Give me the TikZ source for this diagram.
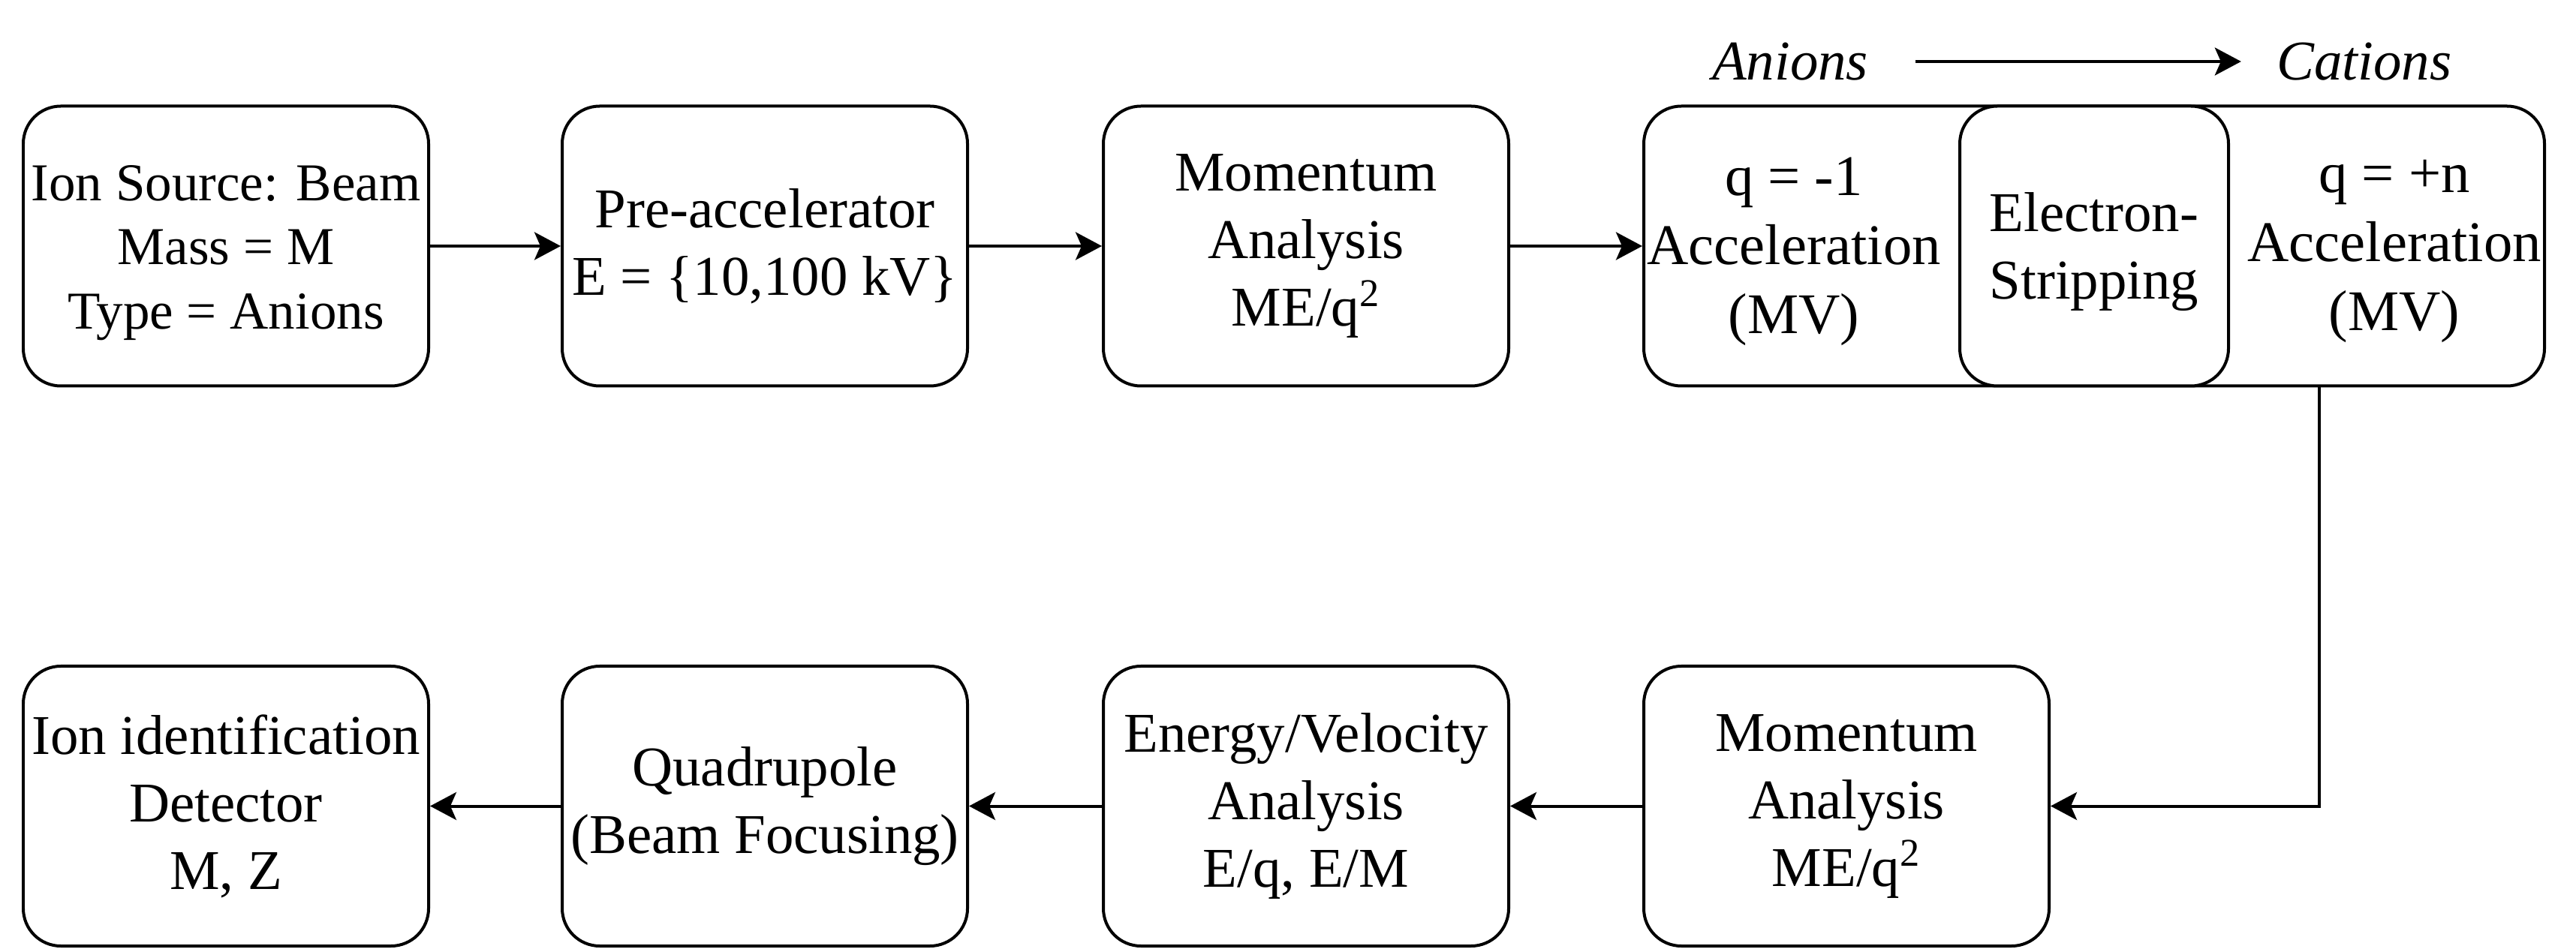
\documentclass[tikz,border=0pt]{standalone}
\usepackage{fontspec}
\setmainfont{Liberation Serif}
\usepackage{tikz}
\usetikzlibrary {arrows.meta}
\pgfmathsetmacro{\topy}{9.36}
\pgfmathsetmacro{\boty}{1.895}
\tikzset{
	block/.style = {draw, line width = .04cm, rounded corners = .5cm, minimum width = 5.4cm, minimum height = 3.73cm, align = center, inner sep = 0pt, font = \fontsize{21.3}{25.6}\selectfont},
	plain/.style = {align = center, inner sep = 0pt, font = \fontsize{21.3}{25.6}\selectfont},
	flow/.style = {line width = .04cm, arrows = {-Stealth[length = .35cm, width = .37cm, inset = .08cm]}},
}
\begin{document}
\begin{tikzpicture}
		\useasboundingbox (0, 0) rectangle (34.32, 12.64);
		\node[block] (source) at (3.01, \topy) {};
		\node[plain, font = \fontsize{20.2}{24.4}\selectfont] (sourcetext) at (3.01, 9.27) {Ion Source: Beam\\Mass = M\\Type = Anions};
		\node[block] (preacc) at (10.19, \topy) {Pre-accelerator\\E = \{10,100 kV\}};
		\node[block] (mom1) at (17.40, \topy) {Momentum\\Analysis\\ME/q\textsuperscript{2}};
		\node[block, minimum width = 12cm] (accel) at (27.90, \topy) {};
		\node[block, minimum width = 3.58cm, fill = white] (strip) at (27.90, \topy) {};
		\node[plain] (striptext) at (27.90, 9.28) {Electron-\\Stripping};
		\node[plain, font = \fontsize{21.8}{26.2}\selectfont] (accneg) at (23.90, 9.29) {q = -1\\Acceleration\\(MV)};
		\node[plain, font = \fontsize{21.8}{26.2}\selectfont] (accpos) at (31.90, 9.29) {q = +n\\Acceleration\\(MV)};
		\node[plain, font = \fontsize{21.3}{25.6}\selectfont\itshape] (anions) at (23.85, 11.82) {Anions};
		\node[plain, font = \fontsize{21.3}{25.6}\selectfont\itshape] (cations) at (31.50, 11.82) {Cations};

		\node[block] (detector) at (3.01, \boty) {Ion identification\\Detector\\M, Z};
		\node[block] (quad) at (10.19, \boty) {Quadrupole\\(Beam Focusing)};
		\node[block] (energy) at (17.40, \boty) {Energy/Velocity\\Analysis\\E/q, E/M};
		\node[block] (mom2) at (24.60, \boty) {Momentum\\Analysis\\ME/q\textsuperscript{2}};
		\coordinate (turn) at (30.90, 0);

		\draw[flow] (source) -- (preacc);
		\draw[flow] (preacc) -- (mom1);
		\draw[flow] (mom1) -- (accel);
		\draw[flow, shorten <= .62cm, shorten >= .47cm] (anions) -- (cations);
		\draw[flow] (accel.south -| turn) |- (mom2);
		\draw[flow] (mom2) -- (energy);
		\draw[flow] (energy) -- (quad);
		\draw[flow] (quad) -- (detector);

	\end{tikzpicture}
\end{document}
